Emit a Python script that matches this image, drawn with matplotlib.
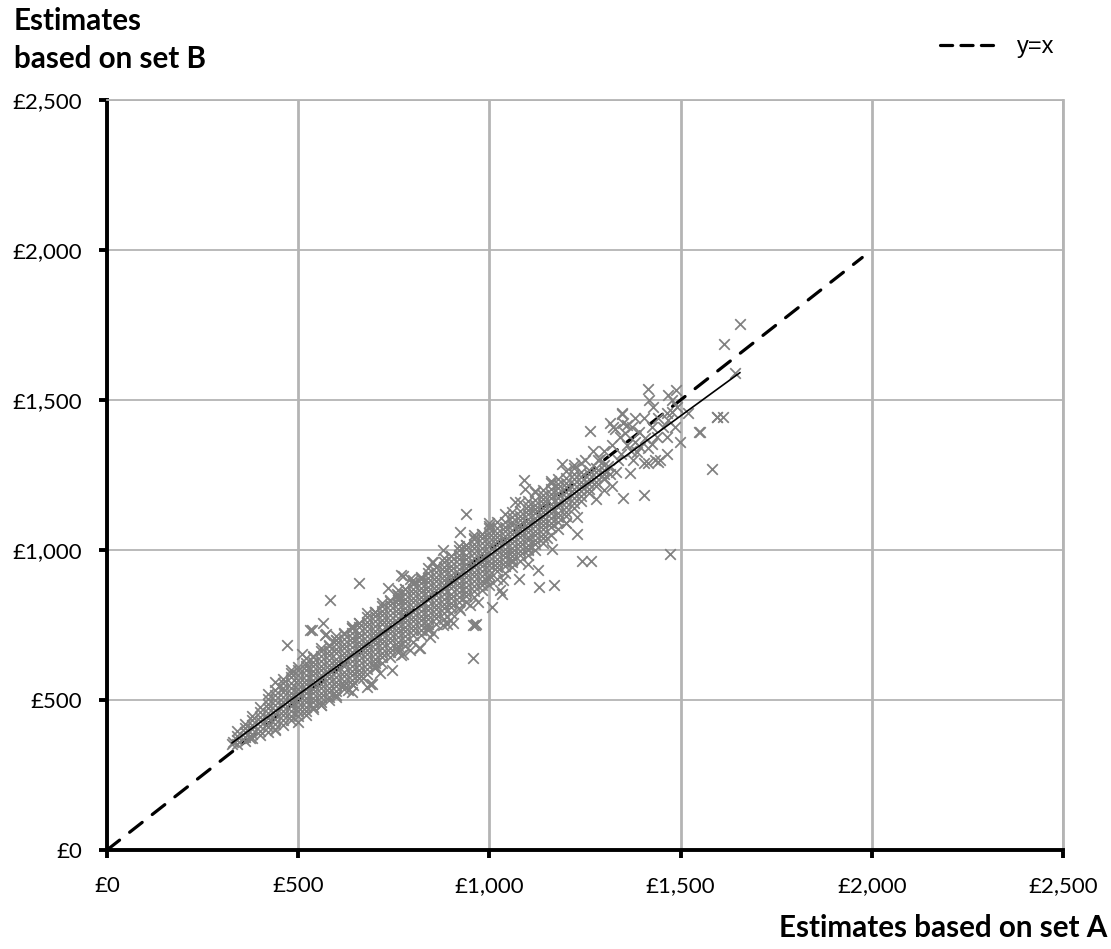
import matplotlib
matplotlib.use("Agg")
import matplotlib.pyplot as plt
from matplotlib.lines import Line2D
from matplotlib.ticker import FuncFormatter, MultipleLocator

# ---- data -------------------------------------------------------------
# Dense body of the cloud: one list of set-B estimates per set-A value
core_x = [340, 360, 380, 400, 420, 440, 460, 480, 500, 520, 540, 560, 580,
          600, 620, 640, 660, 680, 700, 720, 740, 760, 780, 800, 820, 840,
          860, 880, 900, 920, 940, 960, 980, 1000, 1020, 1040, 1060, 1080,
          1100, 1120, 1140, 1160, 1180, 1200, 1220, 1240, 1260, 1280, 1300]
core_y = [
    [352, 367, 381, 396],
    [362, 376, 392, 406, 421],
    [373, 388, 403, 418, 433, 448],
    [383, 398, 413, 429, 444, 460, 477],
    [393, 409, 424, 440, 456, 472, 488, 505],
    [405, 420, 436, 452, 468, 484, 500, 516, 532],
    [418, 433, 449, 464, 480, 495, 511, 526, 541, 556],
    [432, 448, 463, 479, 494, 510, 525, 541, 557, 576],
    [448, 463, 478, 493, 508, 523, 538, 553, 568, 584, 600],
    [462, 477, 492, 508, 523, 538, 553, 568, 584, 599, 615],
    [478, 493, 508, 523, 538, 553, 568, 583, 598, 613, 628, 643],
    [494, 509, 524, 539, 554, 569, 584, 600, 615, 630, 646, 662],
    [511, 526, 541, 556, 572, 587, 602, 618, 633, 649, 665, 681],
    [530, 547, 561, 578, 592, 609, 623, 638, 656, 669, 686, 701],
    [549, 563, 580, 594, 612, 625, 643, 656, 674, 687, 705, 719],
    [568, 584, 598, 615, 630, 646, 661, 677, 692, 708, 723, 739],
    [586, 601, 618, 632, 649, 663, 680, 694, 711, 725, 742, 757],
    [605, 621, 636, 653, 667, 684, 698, 715, 729, 746, 760, 776],
    [623, 638, 655, 669, 686, 700, 717, 731, 748, 762, 779, 794],
    [642, 658, 673, 690, 704, 721, 735, 752, 766, 783, 797, 813],
    [660, 675, 692, 706, 723, 737, 754, 768, 785, 799, 816, 831],
    [679, 695, 710, 727, 741, 758, 772, 789, 803, 820, 834, 850],
    [698, 713, 730, 744, 761, 775, 792, 806, 823, 837, 854, 869],
    [716, 732, 747, 764, 778, 795, 809, 826, 840, 857, 871, 887],
    [735, 750, 767, 781, 798, 812, 829, 843, 860, 874, 891, 906],
    [753, 769, 784, 801, 815, 832, 846, 863, 877, 894, 908, 924],
    [772, 787, 804, 818, 835, 849, 866, 880, 897, 911, 928, 943],
    [790, 806, 821, 838, 852, 869, 883, 900, 914, 931, 945, 961],
    [809, 824, 841, 855, 872, 886, 903, 917, 934, 948, 965, 980],
    [828, 844, 859, 876, 890, 907, 921, 938, 952, 969, 983, 999],
    [846, 861, 878, 892, 909, 923, 940, 954, 971, 985, 1002, 1017],
    [865, 881, 896, 913, 927, 944, 958, 975, 989, 1006, 1020, 1036],
    [883, 898, 915, 929, 946, 960, 977, 991, 1008, 1022, 1039, 1054],
    [902, 918, 933, 950, 964, 981, 995, 1012, 1026, 1043, 1057, 1073],
    [929, 942, 958, 971, 987, 1000, 1016, 1029, 1045, 1058, 1074],
    [947, 961, 976, 990, 1005, 1019, 1034, 1048, 1063, 1077, 1092],
    [966, 979, 995, 1008, 1024, 1037, 1053, 1066, 1082, 1095, 1111],
    [984, 998, 1013, 1027, 1042, 1056, 1071, 1085, 1100, 1114, 1129],
    [1003, 1016, 1032, 1045, 1061, 1074, 1090, 1103, 1119, 1132, 1148],
    [1021, 1035, 1050, 1064, 1079, 1093, 1108, 1122, 1137, 1151, 1166],
    [1040, 1053, 1069, 1082, 1098, 1111, 1127, 1140, 1156, 1169, 1185],
    [1076, 1091, 1108, 1123, 1140, 1155, 1172, 1187, 1204],
    [1094, 1110, 1125, 1142, 1157, 1174, 1189, 1206, 1221],
    [1113, 1128, 1145, 1160, 1177, 1192, 1209, 1224, 1241],
    [1141, 1157, 1172, 1189, 1204, 1221, 1236, 1252],
    [1165, 1181, 1196, 1213, 1228, 1245, 1260],
    [1189, 1205, 1220, 1237, 1252, 1268],
    [1212, 1228, 1243, 1260, 1275],
    [1236, 1252, 1268, 1284],
]

# Ragged upper and lower edges of the cloud
edge_x = [440, 460, 480, 500, 520, 540, 560, 580, 600, 620, 640, 660, 680,
          700, 720, 740, 760, 780, 800, 820, 840, 860, 880, 900, 920, 940,
          960, 980, 1000, 1020, 1040, 1060, 1080, 1100, 1120, 1140, 1160,
          1180, 1200, 1220, 1240,
          520, 540, 560, 580, 600, 620, 640, 660, 680, 700, 720, 740, 760,
          780, 800, 820, 840, 860, 880, 900, 920, 940, 960, 980, 1000, 1020,
          1040, 1060, 1080, 1100, 1120, 1140, 1160, 1180, 1200]
edge_y = [560, 570, 600, 610, 640, 648, 675, 684, 712, 722, 748, 757, 790,
          795, 825, 832, 866, 870, 900, 905, 941, 944, 975, 980, 1015, 1018,
          1050, 1055, 1090, 1092, 1120, 1128, 1160, 1165, 1196, 1200, 1225,
          1236, 1262, 1275, 1290,
          450, 470, 485, 500, 518, 537, 553, 572, 588, 606, 624, 643, 660,
          680, 695, 716, 733, 752, 770, 790, 806, 828, 843, 866, 882, 903,
          922, 942, 962, 982, 1000, 1025, 1050, 1070, 1090]

# Scattered estimates away from the cloud
fringe_x = [1655, 1613, 1642, 1596, 1612, 1549, 1581, 1498, 1520, 1414,
            1418, 1488, 1468, 1348, 1350, 1404, 1464, 1442, 1315, 1329,
            1342, 1359, 1403, 1429, 1464, 1477, 1437, 1464, 1416, 1376,
            1368, 1403, 1433, 1485, 1346, 1263, 1324, 1350, 1407, 1424,
            1455, 1468, 1477, 1490, 1551, 1594, 1385, 1446, 1416, 1472,
            1300, 1310, 1320, 1335, 1290, 1345, 1360, 1380, 1390, 1372,
            1330, 1300, 1315, 1285, 1370, 1395, 1425, 1440, 1380, 1355,
            1241, 1265, 1228, 1163, 1169, 1131, 1126, 1102, 1077, 1032,
            1008, 965, 958, 958, 888, 905, 853, 819, 775, 744,
            714, 679, 640, 600, 631, 644, 692, 670, 500, 439,
            374, 330, 326, 792, 770, 688, 618, 815, 845, 879,
            897, 923, 949, 971, 1028, 1036, 962,
            470, 531, 566, 570, 509, 535, 573, 660, 583, 770,
            792, 801, 736, 758, 762, 849, 879, 853, 939, 923,
            775, 1067, 1090, 1092, 1191,
            420, 450, 480, 520, 600, 640, 700, 820, 960, 1000,
            1120, 1160, 1220, 1250, 1270,
            560, 620, 700, 760, 840, 990, 1060, 1100, 1150, 1200,
            1230, 1280, 1300, 1320]
fringe_y = [1752, 1687, 1591, 1442, 1442, 1393, 1270, 1361, 1458, 1536,
            1500, 1533, 1517, 1453, 1172, 1185, 1319, 1294, 1422, 1405,
            1378, 1417, 1439, 1478, 1456, 1500, 1378, 1378, 1339, 1300,
            1256, 1289, 1300, 1411, 1456, 1398, 1411, 1422, 1372, 1355,
            1411, 1433, 1461, 1478, 1392, 1442, 1328, 1300, 1289, 987,
            1330, 1280, 1350, 1300, 1305, 1320, 1350, 1360, 1395, 1410,
            1260, 1240, 1255, 1300, 1330, 1345, 1410, 1440, 1440, 1390,
            964, 964, 1053, 1005, 883, 878, 935, 955, 902, 855,
            811, 752, 639, 750, 755, 757, 722, 672, 655, 600,
            589, 544, 528, 511, 533, 550, 555, 572, 428, 400,
            372, 361, 355, 667, 650, 555, 550, 672, 711, 750,
            767, 800, 817, 828, 867, 900, 750,
            683, 733, 756, 717, 655, 733, 720, 891, 835, 917,
            902, 889, 872, 855, 839, 961, 1000, 961, 1119, 1061,
            913, 1159, 1233, 1205, 1286,
            520, 548, 590, 625, 700, 740, 795, 910, 1040, 1080,
            1195, 1230, 1285, 1300, 1330,
            485, 550, 615, 670, 745, 900, 960, 1000, 1040, 1090,
            1110, 1170, 1200, 1215]

# Linear trend through the estimates (end points)
trend_x = [327, 1655]
trend_y = [357, 1591]

# Reference line y = x
ref_x = [0, 1975]
ref_y = [0, 1975]

# ---- figure -----------------------------------------------------------
W, H = 1111, 949
fig = plt.figure(figsize=(W / 100, H / 100), dpi=100)
ax = fig.add_axes([107 / W, 99 / H, 956 / W, 750 / H])

label_font = "Lato"
grid_col = "#b4b4b4"

ax.set_xlim(0, 2500)
ax.set_ylim(0, 2500)
ax.xaxis.set_major_locator(MultipleLocator(500))
ax.yaxis.set_major_locator(MultipleLocator(500))
money = FuncFormatter(lambda v, _: "£{:,.0f}".format(v))
ax.xaxis.set_major_formatter(money)
ax.yaxis.set_major_formatter(money)

ax.set_axisbelow(True)
ax.xaxis.grid(True, color=grid_col, lw=2.0)
ax.yaxis.grid(True, color=grid_col, lw=1.3)

for side in ("left", "bottom"):
    ax.spines[side].set_color("black")
    ax.spines[side].set_linewidth(2.8)
ax.spines["top"].set_color(grid_col)
ax.spines["top"].set_linewidth(1.3)
ax.spines["right"].set_color(grid_col)
ax.spines["right"].set_linewidth(2.0)

ax.tick_params(axis="both", direction="out", length=6, width=2.8,
               color="black", labelsize=16)
ax.tick_params(axis="x", pad=13)
ax.tick_params(axis="y", pad=12)
for lab in ax.get_xticklabels() + ax.get_yticklabels():
    lab.set_fontfamily(label_font)

# y = x reference, beneath the points
ax.plot(ref_x, ref_y, color="black", lw=2.3, dashes=(5, 4),
        dash_capstyle="round", zorder=1.5)

# scatter of estimates
pts_x = []
pts_y = []
for xv, col in zip(core_x, core_y):
    pts_x.extend([xv] * len(col))
    pts_y.extend(col)
pts_x.extend(edge_x + fringe_x)
pts_y.extend(edge_y + fringe_y)
ax.scatter(pts_x, pts_y, marker="x", s=58, c="#808080", linewidths=1.25,
           zorder=2)

# trend line on top
ax.plot(trend_x, trend_y, color="black", lw=1.2, zorder=3)

# axis titles
title_kw = dict(fontsize=21.3, fontweight="bold", family=label_font,
                va="baseline")
fig.text(14 / W, 1 - 30 / H, "Estimates", ha="left", **title_kw)
fig.text(14 / W, 1 - 68 / H, "based on set B", ha="left", **title_kw)
fig.text(1107 / W, 1 - 937 / H, "Estimates based on set A", ha="right",
         **title_kw)

# legend
proxy = Line2D([], [], color="black", lw=2.3, dashes=(3.8, 2.6),
               dash_capstyle="round")
fig.legend(handles=[proxy], labels=["y=x"], loc="center left",
           bbox_to_anchor=(940 / W, 1 - 47 / H), frameon=False,
           borderpad=0, borderaxespad=0, handlelength=2.4,
           handletextpad=0.85, prop={"family": "Liberation Sans", "size": 17})

fig.savefig("out.png", dpi=100)
